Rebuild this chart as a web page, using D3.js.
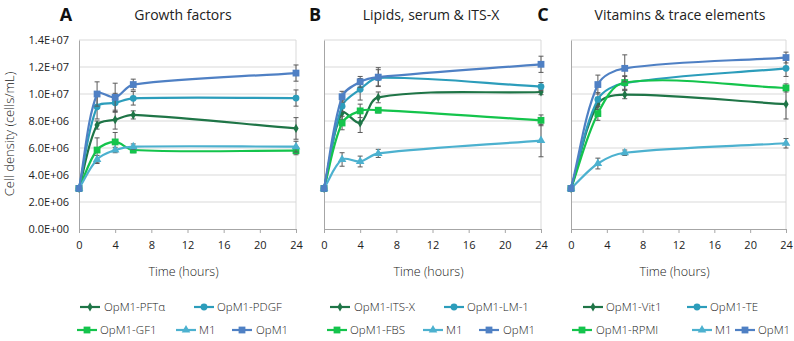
<!DOCTYPE html>
<html><head><meta charset="utf-8">
<script src="https://cdn.jsdelivr.net/npm/d3@7"></script>
<style>body{margin:0;background:#fff}svg{display:block}text{font-family:"Open Sans","Noto Sans",sans-serif;font-weight:300;fill:#222}</style>
</head><body><svg id="c" width="794" height="341"></svg>
<script>
// ---- data (values in units of 1E6 cells/mL) ----
const timesAB = [0, 2, 4, 6, 24];
const timesC = [0, 3, 6, 24];
const yTicks = [0, 2e6, 4e6, 6e6, 8e6, 10e6, 12e6, 14e6];
const xTicks = [0, 4, 8, 12, 16, 20, 24];

const panelLetters = ["A", "B", "C"];
const panelTitles = ["Growth factors", "Lipids, serum & ITS-X", "Vitamins & trace elements"];

// Panel A
const A_names = ["OpM1-PFTα", "OpM1-PDGF", "OpM1-GF1", "M1", "OpM1"];
const A_PFTa = [3.0, 7.7, 8.1, 8.45, 7.45];
const A_PFTa_err = [0.05, 0.3, 0.7, 0.3, 0.8];
const A_PDGF = [3.0, 9.05, 9.35, 9.68, 9.7];
const A_PDGF_err = [0.05, 0.9, 0.7, 0.5, 0.6];
const A_GF1 = [3.0, 5.85, 6.45, 5.85, 5.8];
const A_GF1_err = [0.05, 0.9, 0.7, 0.2, 0.3];
const A_M1 = [3.0, 5.15, 5.85, 6.1, 6.1];
const A_M1_err = [0.05, 0.3, 0.2, 0.2, 0.4];
const A_OpM1 = [3.0, 10.0, 9.75, 10.7, 11.55];
const A_OpM1_err = [0.05, 0.9, 1.05, 0.4, 0.6];

// Panel B
const B_names = ["OpM1-ITS-X", "OpM1-LM-1", "OpM1-FBS", "M1", "OpM1"];
const B_ITSX = [3.0, 8.6, 7.85, 9.75, 10.15];
const B_ITSX_err = [0.05, 0.5, 0.7, 0.4, 0.2];
const B_LM1 = [3.0, 9.1, 10.35, 11.2, 10.55];
const B_LM1_err = [0.05, 0.4, 0.8, 0.6, 0.3];
const B_FBS = [3.0, 7.85, 8.75, 8.8, 8.05];
const B_FBS_err = [0.05, 0.5, 0.5, 0.2, 0.4];
const B_M1 = [3.0, 5.15, 5.0, 5.6, 6.55];
const B_M1_err = [0.05, 0.5, 0.4, 0.3, 1.2];
const B_OpM1 = [3.0, 9.8, 10.9, 11.25, 12.2];
const B_OpM1_err = [0.05, 0.4, 0.4, 0.7, 0.6];

// Panel C
const C_names = ["OpM1-Vit1", "OpM1-TE", "OpM1-RPMI", "M1", "OpM1"];
const C_Vit1 = [3.0, 9.25, 9.95, 9.25];
const C_Vit1_err = [0.05, 0.4, 0.3, 1.1];
const C_TE = [3.0, 9.6, 10.8, 11.9];
const C_TE_err = [0.05, 0.5, 0.5, 0.6];
const C_RPMI = [3.0, 8.55, 10.85, 10.45];
const C_RPMI_err = [0.05, 0.5, 0.5, 0.3];
const C_M1 = [3.0, 4.85, 5.65, 6.35];
const C_M1_err = [0.05, 0.4, 0.2, 0.35];
const C_OpM1 = [3.0, 10.7, 11.9, 12.7];
const C_OpM1_err = [0.05, 0.7, 1.0, 0.4];

// ---- styling ----
const colors = ["#1f7547", "#2c9dbb", "#14c44c", "#4cb1cf", "#4f80c4"];
const shapes = ["diamond", "circle", "square", "triangle", "square"];

const panels = [
  {times: timesAB, names: A_names, vals: [A_PFTa, A_PDGF, A_GF1, A_M1, A_OpM1], errs: [A_PFTa_err, A_PDGF_err, A_GF1_err, A_M1_err, A_OpM1_err]},
  {times: timesAB, names: B_names, vals: [B_ITSX, B_LM1, B_FBS, B_M1, B_OpM1], errs: [B_ITSX_err, B_LM1_err, B_FBS_err, B_M1_err, B_OpM1_err]},
  {times: timesC, names: C_names, vals: [C_Vit1, C_TE, C_RPMI, C_M1, C_OpM1], errs: [C_Vit1_err, C_TE_err, C_RPMI_err, C_M1_err, C_OpM1_err]}
];

// legend items: [line start x, text x, y]
const layout = [
  {x0: 79, x1: 296, letterX: 66, titleX: 183,
   leg: [[80, 104, 307], [194, 217, 307], [77, 100, 330], [176, 199, 330], [232, 256, 330]]},
  {x0: 324, x1: 541, letterX: 315, titleX: 431,
   leg: [[330, 354, 307], [444, 467, 307], [327, 350, 330], [423, 446, 330], [479, 503, 330]]},
  {x0: 571, x1: 786, letterX: 543, titleX: 680,
   leg: [[583, 606, 307], [687, 710, 307], [572, 596, 330], [692, 715, 330], [735, 758, 330]]}
];
const yTop = 40, yBot = 229;

const svg = d3.select("#c");
const y = d3.scaleLinear().domain([0, 14e6]).range([yBot, yTop]);
const fmt = v => {
  if (v === 0) return "0.0E+00";
  const e = Math.floor(Math.log10(v));
  const m = v / Math.pow(10, e);
  return m.toFixed(1) + "E+" + String(e).padStart(2, "0");
};

// Excel-like smooth curve: Catmull-Rom style tangents, handles weighted by neighbouring segment lengths
function curveSmooth(context) {
  let P = [];
  return {
    areaStart() {}, areaEnd() {},
    lineStart() { P = []; },
    point(x, y) { P.push([+x, +y]); },
    lineEnd() {
      const n = P.length;
      if (!n) return;
      const dist = (a, b) => Math.hypot(b[0] - a[0], b[1] - a[1]);
      const cin = [], cout = [];
      for (let i = 0; i < n; i++) {
        if (i === 0 || i === n - 1) {
          const o = i === 0 ? P[1] : P[n - 2];
          const c = [P[i][0] + (o[0] - P[i][0]) / 3, P[i][1] + (o[1] - P[i][1]) / 3];
          cin[i] = c; cout[i] = c;
          continue;
        }
        const T = [P[i + 1][0] - P[i - 1][0], P[i + 1][1] - P[i - 1][1]];
        const d1 = dist(P[i - 1], P[i]), d2 = dist(P[i], P[i + 1]);
        const s = 1 / 3, f1 = s * d1 / (d1 + d2), f2 = s * d2 / (d1 + d2);
        cin[i] = [P[i][0] - T[0] * f1, P[i][1] - T[1] * f1];
        cout[i] = [P[i][0] + T[0] * f2, P[i][1] + T[1] * f2];
      }
      context.moveTo(P[0][0], P[0][1]);
      for (let i = 0; i < n - 1; i++) {
        context.bezierCurveTo(cout[i][0], cout[i][1], cin[i + 1][0], cin[i + 1][1], P[i + 1][0], P[i + 1][1]);
      }
    }
  };
}

function marker(g, shape, color, cx, cy) {
  if (shape === "diamond") {
    g.append("path").attr("d", d3.symbol(d3.symbolDiamond, 24)()).attr("transform", `translate(${cx},${cy})`).attr("fill", color);
  } else if (shape === "circle") {
    g.append("circle").attr("cx", cx).attr("cy", cy).attr("r", 3.4).attr("fill", color);
  } else if (shape === "square") {
    g.append("rect").attr("x", cx - 3.4).attr("y", cy - 3.4).attr("width", 6.8).attr("height", 6.8).attr("fill", color);
  } else {
    g.append("path").attr("d", d3.symbol(d3.symbolTriangle, 32)()).attr("transform", `translate(${cx},${cy})`).attr("fill", color);
  }
}

panels.forEach((p, pi) => {
  const L = layout[pi];
  const x = d3.scaleLinear().domain([0, 24]).range([L.x0, L.x1]);
  const g = svg.append("g");

  g.selectAll(".grid").data(yTicks.slice(1)).join("line")
    .attr("x1", L.x0).attr("x2", L.x1)
    .attr("y1", d => y(d)).attr("y2", d => y(d))
    .attr("stroke", "#d9d9d9").attr("stroke-width", 1);
  g.append("line").attr("x1", L.x1).attr("x2", L.x1).attr("y1", yTop).attr("y2", yBot)
    .attr("stroke", "#d9d9d9");

  const ya = g.append("g").attr("transform", `translate(${L.x0},0)`)
    .call(d3.axisLeft(y).tickValues(yTicks).tickSize(0).tickPadding(pi === 0 ? 10 : 0).tickFormat(pi === 0 ? fmt : ""));
  ya.select(".domain").attr("stroke", "#a6a6a6");
  ya.selectAll("text").attr("font-size", 11).attr("fill", "#2a2a2a").style("font-family", "'Open Sans', sans-serif").style("font-weight", 400);

  const xa = g.append("g").attr("transform", `translate(0,${yBot})`)
    .call(d3.axisBottom(x).tickValues(xTicks).tickSize(4).tickPadding(8).tickSizeOuter(0));
  xa.select(".domain").attr("stroke", "#a6a6a6");
  xa.selectAll("line").attr("stroke", "#a6a6a6");
  xa.selectAll("text").attr("font-size", 11).attr("fill", "#2a2a2a").style("font-family", "'Open Sans', sans-serif").style("font-weight", 400);

  g.append("text").attr("x", (L.x0 + L.x1) / 2 - 4).attr("y", 276).attr("text-anchor", "middle")
    .attr("font-size", 12.5).text("Time (hours)");

  g.append("text").attr("x", L.letterX).attr("y", 21).attr("text-anchor", "middle")
    .attr("font-size", 18).style("font-weight", "bold").style("fill", "#111").text(panelLetters[pi]);
  g.append("text").attr("x", L.titleX).attr("y", 20).attr("text-anchor", "middle")
    .attr("font-size", 14).style("font-weight", 400).text(panelTitles[pi]);

  const line = d3.line().x(d => x(d[0])).y(d => y(d[1] * 1e6)).curve(curveSmooth);
  p.vals.forEach((vals, si) => {
    const pts = p.times.map((t, i) => [t, vals[i], p.errs[si][i]]);
    const sg = g.append("g");
    pts.forEach(d => {
      const cx = x(d[0]);
      const yt = y((d[1] + d[2]) * 1e6), yb = y((d[1] - d[2]) * 1e6);
      sg.append("line").attr("x1", cx).attr("x2", cx).attr("y1", yt).attr("y2", yb).attr("stroke", "#5a5a5a").attr("stroke-width", 1);
      [yt, yb].forEach(yy => sg.append("line").attr("x1", cx - 2.5).attr("x2", cx + 2.5).attr("y1", yy).attr("y2", yy).attr("stroke", "#5a5a5a").attr("stroke-width", 1));
    });
    sg.append("path").datum(pts).attr("d", line).attr("fill", "none")
      .attr("stroke", colors[si]).attr("stroke-width", 2.2);
    pts.forEach(d => marker(sg, shapes[si], colors[si], x(d[0]), y(d[1] * 1e6)));
  });

  p.names.forEach((n, si) => {
    const [lx, tx, ly] = L.leg[si];
    const lg = g.append("g");
    lg.append("line").attr("x1", lx).attr("x2", lx + 20).attr("y1", ly).attr("y2", ly)
      .attr("stroke", colors[si]).attr("stroke-width", 2.2);
    marker(lg, shapes[si], colors[si], lx + 10, ly);
    lg.append("text").attr("x", tx).attr("y", ly).attr("dy", "0.35em")
      .attr("font-size", 11.5).text(n);
  });
});

svg.append("text").attr("transform", "translate(14,134) rotate(-90)").attr("text-anchor", "middle")
  .attr("font-size", 13).text("Cell density (cells/mL)");
</script></body></html>
